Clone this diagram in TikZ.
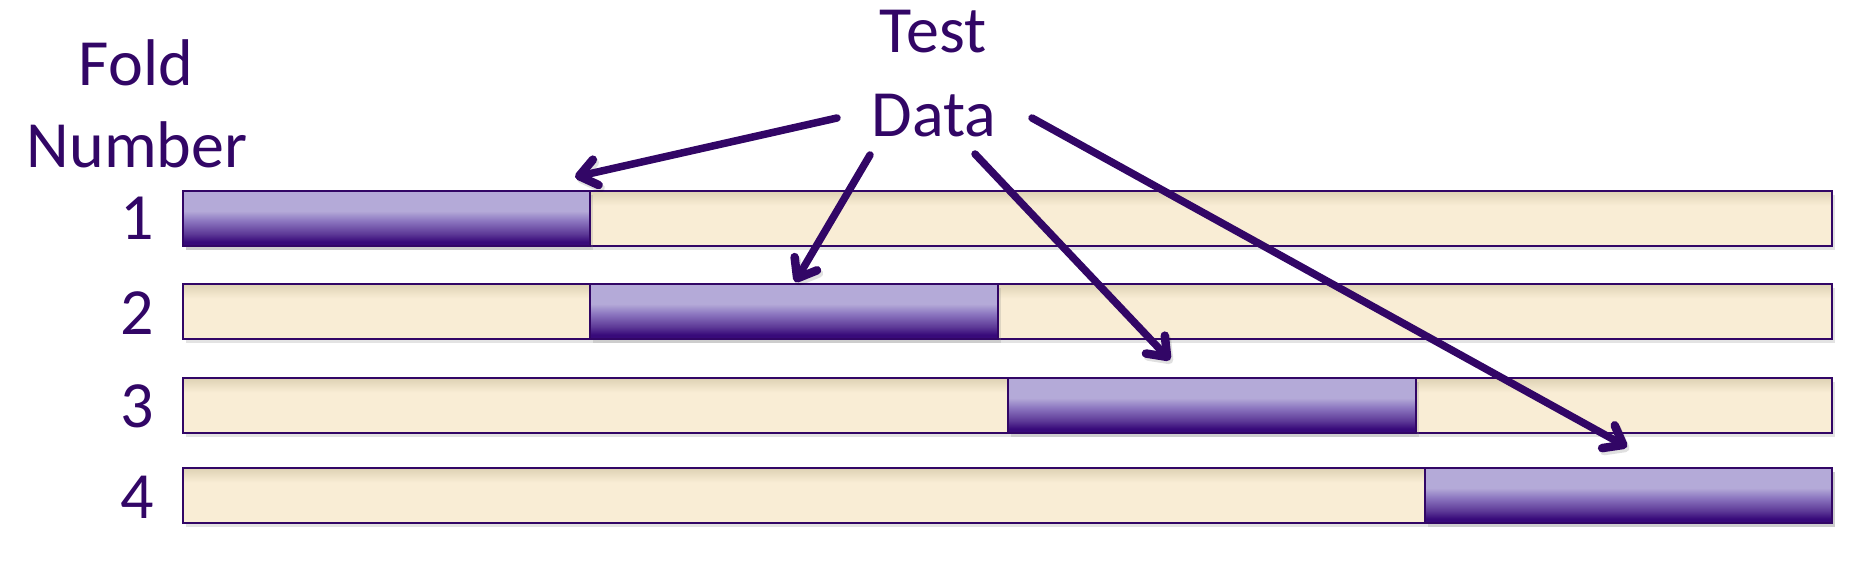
\documentclass[tikz,border=0pt]{standalone}
\usepackage{fontspec}
\setmainfont{Carlito}
\usetikzlibrary{arrows.meta,shadows}
\definecolor{ink}{RGB}{50,6,102}
\definecolor{plight}{RGB}{180,170,216}
\definecolor{pmid}{RGB}{140,118,192}
\definecolor{pmid2}{RGB}{92,56,150}
\definecolor{pdark}{RGB}{56,10,122}
\definecolor{bdark}{RGB}{222,210,180}
\definecolor{blight}{RGB}{249,237,213}
\pgfdeclareverticalshading{purpgrad}{100bp}{color(0bp)=(pdark); color(25bp)=(pdark); color(29bp)=(pdark); color(36bp)=(pmid2); color(48bp)=(pmid); color(57bp)=(plight); color(75bp)=(plight); color(100bp)=(plight)}
\pgfdeclareverticalshading{beigegrad}{100bp}{color(0bp)=(blight); color(25bp)=(blight); color(62bp)=(blight); color(75bp)=(bdark); color(100bp)=(bdark)}
\tikzset{
  lbl/.style={text=ink, font=\fontsize{66}{80}\selectfont, inner sep=0pt},
  barbox/.style={rectangle, draw=ink, line width=2.2pt, shading=beigegrad, inner sep=0pt,
    minimum height=55pt, anchor=north west,
    drop shadow={shadow xshift=3pt, shadow yshift=-4pt, opacity=0.22}},
  segbox/.style={rectangle, draw=ink, line width=2.2pt, shading=purpgrad, inner sep=0pt,
    minimum height=55pt, minimum width=408pt, anchor=north west,
    drop shadow={shadow xshift=3pt, shadow yshift=-4pt, opacity=0.22}},
  arr/.style={draw=ink, line width=7.5pt, line cap=round,
    -{Straight Barb[length=17pt,width=26pt,line width=8.5pt,round]},
    preaction={draw=black, opacity=0.12, transform canvas={xshift=2pt,yshift=-3pt}}}
}
\begin{document}
\begin{tikzpicture}[x=1pt,y=-1pt]
\useasboundingbox (0,0) rectangle (1867,569);
% bars
\node[barbox, minimum width=1649pt] (bar1) at (182,190) {};
\node[barbox, minimum width=1649pt] (bar2) at (182,283) {};
\node[barbox, minimum width=1649pt] (bar3) at (182,377) {};
\node[barbox, minimum width=1649pt] (bar4) at (182,467) {};
\node[segbox, minimum width=407pt] (seg1) at (182,190) {};
\node[segbox, minimum width=408pt] (seg2) at (589,283) {};
\node[segbox, minimum width=408pt] (seg3) at (1007,377) {};
\node[segbox, minimum width=407pt] (seg4) at (1424,467) {};
% labels
\node[lbl, anchor=base] (fold) at (136,86) {Fold};
\node[lbl, anchor=base] (number) at (137,168) {Number};
\node[lbl, anchor=base] (n1) at (137,240) {1};
\node[lbl, anchor=base] (n2) at (137,334) {2};
\node[lbl, anchor=base] (n3) at (137,427) {3};
\node[lbl, anchor=base] (n4) at (137,518) {4};
\node[lbl, anchor=base] (test) at (933,53) {Test};
\node[lbl, anchor=base] (data) at (934,137) {Data};
% arrows
\coordinate (a1s) at (837,118);
\coordinate (a2s) at (870,155);
\coordinate (a3s) at (975,154);
\coordinate (a4s) at (1032,118);
\coordinate (a1t) at (575,177);
\coordinate (a2t) at (795,282);
\coordinate (a3t) at (1170,360);
\coordinate (a4t) at (1627,447);
\draw[arr] (a1s) -- (a1t);
\draw[arr] (a2s) -- (a2t);
\draw[arr] (a3s) -- (a3t);
\draw[arr] (a4s) -- (a4t);
\end{tikzpicture}
\end{document}
